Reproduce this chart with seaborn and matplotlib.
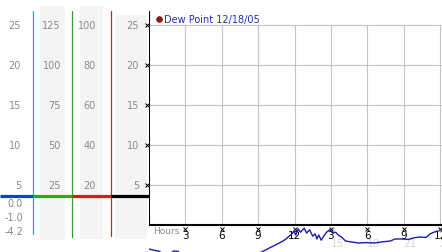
import matplotlib
matplotlib.use("Agg")
import matplotlib.pyplot as plt
import seaborn as sns
import pandas as pd
import numpy as np

sns.set_theme(style="white")
plt.rcParams['font.family'] = ['DejaVu Sans']

# ---- data ----
hours = [0.0, 0.25, 0.75, 1.1, 1.7, 2.05, 2.4, 2.7, 4.0, 6.0, 8.0, 9.25, 9.9, 10.55, 11.05,
         11.3, 11.55, 11.8, 11.95, 12.1, 12.3, 12.5, 12.8, 13.0, 13.25, 13.5, 13.7, 13.85,
         14.0, 14.2, 14.4, 14.65, 14.9, 15.15, 15.4, 15.6, 15.95, 16.2, 16.6, 17.3, 17.9,
         18.6, 19.3, 19.9, 20.3, 20.9, 21.4, 21.85, 22.35, 22.85, 23.2, 23.5, 23.8]
dew_point = [-3.0, -3.1, -3.25, -3.5, -3.6, -3.25, -3.3, -3.75, -4.1, -4.2, -4.0, -3.4, -2.9,
             -2.4, -2.0, -1.75, -1.4, -1.1, -0.75, -1.25, -0.5, -0.9, -0.4, -1.0, -0.6, -1.4,
             -1.1, -1.75, -1.25, -1.9, -1.4, -0.9, -0.6, -1.0, -0.9, -1.25, -1.6, -2.0, -2.1,
             -2.25, -2.2, -2.25, -2.1, -2.0, -1.75, -1.75, -1.8, -1.6, -1.5, -1.55, -1.1,
             -0.9, -0.75]
y_ticks = [5, 10, 15, 20, 25]
col1_labels = ["5", "10", "15", "20", "25"]
col2_labels = ["25", "50", "75", "100", "125"]
col3_labels = ["20", "40", "60", "80", "100"]
col4_labels = ["5", "10", "15", "20", "25"]
stat_labels = ["0.0", "-1.0", "-4.2"]
hour_ticks = [3, 6, 9, 12, 15, 18, 21, 24]
hour_labels = ["3", "6", "9", "12", "3", "6", "9", "12"]
pm_ticks = [15, 18, 21, 24]
pm_labels = ["15", "18", "21", "24"]
legend_label = "Dew Point 12/18/05"

W, H = 442, 253
fig = plt.figure(figsize=(W / 100, H / 100), dpi=100)
fig.patch.set_facecolor("white")

# pixel -> value helpers for layout (8 px per unit, zero at pixel row 226)
def yv(py):
    return (226 - py) / 8.0

ylo, yhi = yv(H), yv(0)
x0 = 149
pxh = 12.125
xmax = (W - x0) / pxh

# ---- left scale panel ----
axl = fig.add_axes([0, 0, x0 / W, 1])
axl.set_xlim(0, x0)
axl.set_ylim(ylo, yhi)
axl.axis("off")

grey_bg = "#f4f4f4"
for (xa, xb, ta, tb) in [(40, 65, 7, 241), (80, 103, 7, 240), (115, 147, 16, 240)]:
    axl.fill_between([xa, xb], yv(tb), yv(ta), color=grey_bg, lw=0, zorder=0)

for xx, col, bot in [(33, "#3aa0c8", 235), (72, "#2ea02e", 238), (111, "#b03030", 237)]:
    axl.plot([xx, xx], [yv(12), yv(bot)], color=col, lw=0.9, zorder=2)

lvl = yv(196.7)
for xa, xb, col in [(0, 33, "#1040e0"), (33, 72, "#20b020"), (72, 111, "#e01818"), (111, 149, "black")]:
    axl.plot([xa, xb], [lvl, lvl], color=col, lw=2.3, solid_capstyle="butt", zorder=3)

tc = "#8a8a8a"
fs = 7
for labels, xr in [(col1_labels, 21), (col2_labels, 61), (col3_labels, 96), (col4_labels, 139)]:
    for v, lab in zip(y_ticks, labels):
        axl.text(xr, v, lab, ha="right", va="center", fontsize=fs, color=tc)
for py, lab in zip([204, 217.7, 231.7], stat_labels):
    axl.text(23, yv(py), lab, ha="right", va="center", fontsize=fs, color=tc)

# ---- main chart ----
ax = fig.add_axes([x0 / W, 0, (W - x0) / W, 1])
ax.set_xlim(0, xmax)
ax.set_ylim(ylo, yhi)
ax.axis("off")

gc = "#c4c4c4"
ax.hlines(y_ticks, 0, xmax, color=gc, lw=0.8, zorder=1)
ax.vlines(hour_ticks, 0, 25, color=gc, lw=0.8, zorder=1)
ax.plot([0, 0], [0, yv(12)], color="black", lw=1.5, zorder=3, solid_capstyle="butt")
ax.plot([0, xmax], [0, 0], color="black", lw=1.5, zorder=3, solid_capstyle="butt")

# tick marks
ax.plot([-2.5 / pxh] * len(y_ticks), y_ticks, ls="none", marker="x", ms=2.2, mew=0.7,
        color="black", clip_on=False, zorder=4)
ax.plot(hour_ticks, [yv(229.5)] * len(hour_ticks), ls="none", marker="x", ms=2.2, mew=0.7,
        color="black", clip_on=False, zorder=4)

for h, lab in zip(hour_ticks, hour_labels):
    ax.text(h, yv(236), lab, ha="center", va="center", fontsize=7.5, color="black", zorder=4)
for h, lab in zip(pm_ticks, pm_labels):
    ax.text(h + 0.5, yv(244), lab, ha="center", va="center", fontsize=7.5, color="#d4d6de", zorder=2)
ax.text(4 / pxh, yv(231.5), "Hours", ha="left", va="center", fontsize=6.5, color=tc)

df = pd.DataFrame({"hour": hours, "dew": dew_point})
sns.lineplot(data=df, x="hour", y="dew", ax=ax, color="#1c1ca8", lw=1.0, zorder=5)
ax.axis("off")
ax.set_xlim(0, xmax)
ax.set_ylim(ylo, yhi)

# legend
ax.plot([10 / pxh], [yv(20)], marker="o", ms=4.2, color="#a01010", mec="#600000", mew=0.4, zorder=6)
ax.text(15 / pxh, yv(20), legend_label, ha="left", va="center", fontsize=7, color="#2030b8", zorder=6)

fig.savefig("out.png", dpi=100)
